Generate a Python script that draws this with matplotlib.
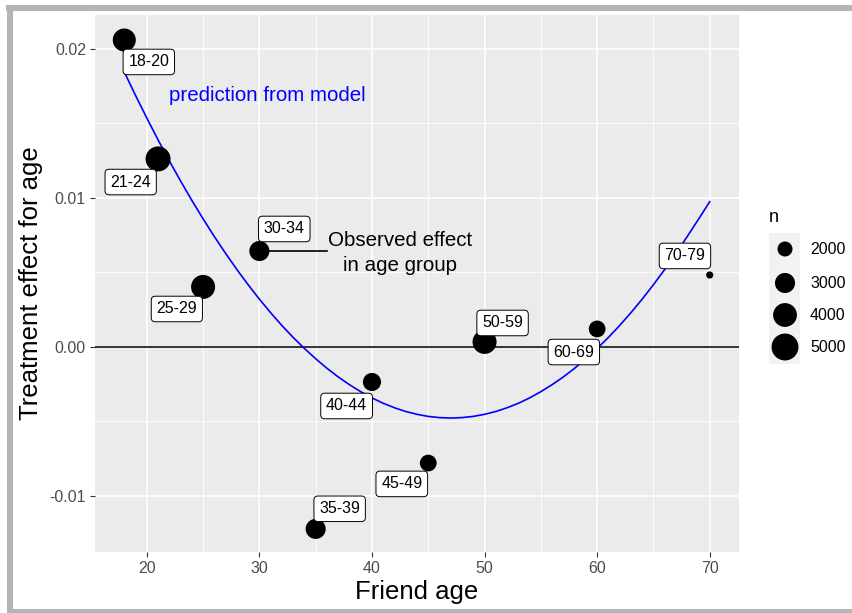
import numpy as np
import matplotlib
matplotlib.use("Agg")
import matplotlib.pyplot as plt
from matplotlib.patches import Rectangle

# ---------------- data ----------------
groups = ["18-20", "21-24", "25-29", "30-34", "35-39", "40-44", "45-49", "50-59", "60-69", "70-79"]
friend_age = [18, 21, 25, 30, 35, 40, 45, 50, 60, 70]
effect = [0.0206, 0.01262, 0.00403, 0.00644, -0.01221, -0.00235, -0.00779, 0.00034, 0.00121, 0.00483]
n_obs = [3770, 4360, 4060, 3000, 3000, 2570, 2300, 4060, 2300, 1250]

pred_age = list(range(18, 71))
pred_effect = [0.01846, 0.01688, 0.01537, 0.01390, 0.01249, 0.01114, 0.00984, 0.00860,
               0.00741, 0.00628, 0.00520, 0.00418, 0.00321, 0.00230, 0.00144, 0.00064,
               -0.00010, -0.00079, -0.00143, -0.00201, -0.00253, -0.00300, -0.00342,
               -0.00378, -0.00408, -0.00433, -0.00452, -0.00466, -0.00474, -0.00477,
               -0.00474, -0.00466, -0.00452, -0.00433, -0.00408, -0.00378, -0.00342,
               -0.00300, -0.00253, -0.00201, -0.00143, -0.00079, -0.00010, 0.00064,
               0.00144, 0.00230, 0.00321, 0.00418, 0.00520, 0.00628, 0.00741, 0.00857,
               0.00975]

legend_n = [2000, 3000, 4000, 5000]
x_ticks = [20, 30, 40, 50, 60, 70]
y_ticks = [-0.01, 0.00, 0.01, 0.02]
y_ticklabels = ["-0.01", "0.00", "0.01", "0.02"]

# label positions (layout, data coords)
label_pos = [(20.18, 0.01913), (18.57, 0.01107), (22.67, 0.00255), (32.21, 0.00792),
             (37.13, -0.01086), (37.75, -0.00396), (42.65, -0.00919), (51.6, 0.00161),
             (57.93, -0.00034), (67.8, 0.00611)]

# ---------------- style ----------------
FONT = "Liberation Sans"
plt.rcParams["font.family"] = [FONT, "DejaVu Sans"]
W, H, DPI = 853, 613, 100


def marker_area(n):
    n = np.asarray(n, dtype=float)
    t = np.clip((n - 1213.0) / 4918.0, 0, 1)
    d_px = 5.0 * (1 + 5 * np.sqrt(t))
    d_pt = d_px * 72.0 / DPI
    return d_pt ** 2


fig = plt.figure(figsize=(W / DPI, H / DPI), dpi=DPI)
fig.patch.set_facecolor("white")

L, R, T, B = 95, 739, 15, 552
ax = fig.add_axes([L / W, 1 - B / H, (R - L) / W, (B - T) / H])
ax.set_facecolor("#ebebeb")
ax.set_xlim(15.4, 72.6)
ax.set_ylim(-0.01376, 0.02228)

# grid
for xm in [15, 25, 35, 45, 55, 65]:
    ax.axvline(xm, color="white", lw=0.6, zorder=0.5)
for ym in [-0.005, 0.005, 0.015]:
    ax.axhline(ym, color="white", lw=0.6, zorder=0.5)
for xm in x_ticks:
    ax.axvline(xm, color="white", lw=1.2, zorder=0.6)
for ym in y_ticks:
    ax.axhline(ym, color="white", lw=1.2, zorder=0.6)

for s in ax.spines.values():
    s.set_visible(False)
ax.set_xticks(x_ticks)
ax.set_xticklabels([str(v) for v in x_ticks])
ax.set_yticks(y_ticks)
ax.set_yticklabels(y_ticklabels)
ax.tick_params(axis="both", length=3.5, width=0.8, color="#333333",
               labelcolor="#4d4d4d", labelsize=11.5, pad=3)

# zero line
ax.axhline(0, color="black", lw=1.1, zorder=1)

# model curve
ax.plot(pred_age, pred_effect, color="blue", lw=1.2, zorder=2)

# points
ax.scatter(friend_age, effect, s=marker_area(n_obs), color="black", zorder=3, linewidths=0)

# labels
for g, (lx, ly) in zip(groups, label_pos):
    ax.text(lx, ly, g, ha="center", va="center", fontsize=11.5, color="black", zorder=4,
            bbox=dict(boxstyle="round,pad=0.33,rounding_size=0.25", fc="white", ec="black", lw=0.7))

# annotations
ax.text(30.7, 0.01685, "prediction from model", color="blue", fontsize=14.8,
        ha="center", va="center", zorder=4)
ax.plot([30.0, 36.0], [0.00644, 0.00644], color="black", lw=1.2, zorder=2.5)
ax.text(42.5, 0.0063, "Observed effect\nin age group", color="black", fontsize=14.8,
        ha="center", va="center", linespacing=1.35, zorder=4)

ax.set_xlabel("Friend age", fontsize=18.5, color="black", labelpad=3)
ax.set_ylabel("Treatment effect for age", fontsize=18.5, color="black", labelpad=5)

# ---------------- overlay: legend and frame ----------------
ov = fig.add_axes([0, 0, 1, 1], zorder=10)
ov.set_xlim(0, W)
ov.set_ylim(H, 0)
ov.axis("off")
ov.patch.set_alpha(0)

# frame (top, left, bottom; open on the right)
ov.add_patch(Rectangle((6, 5), W, 6, color="#b5b5b5", lw=0))
ov.add_patch(Rectangle((7, 5), 6, H - 5, color="#b5b5b5", lw=0))
ov.add_patch(Rectangle((7, 609), W, 5, color="#b5b5b5", lw=0))

# legend
ov.text(769, 217, "n", fontsize=13, ha="left", va="center")
ov.add_patch(Rectangle((769, 233), 31, 131, color="#f2f2f2", lw=0))
leg_y = [249, 283, 315, 347]
ov.scatter([785] * len(legend_n), leg_y, s=marker_area(legend_n), color="black", linewidths=0)
for v, yy in zip(legend_n, leg_y):
    ov.text(810, yy, str(v), fontsize=11.5, ha="left", va="center")

fig.savefig("out.png", dpi=DPI)
